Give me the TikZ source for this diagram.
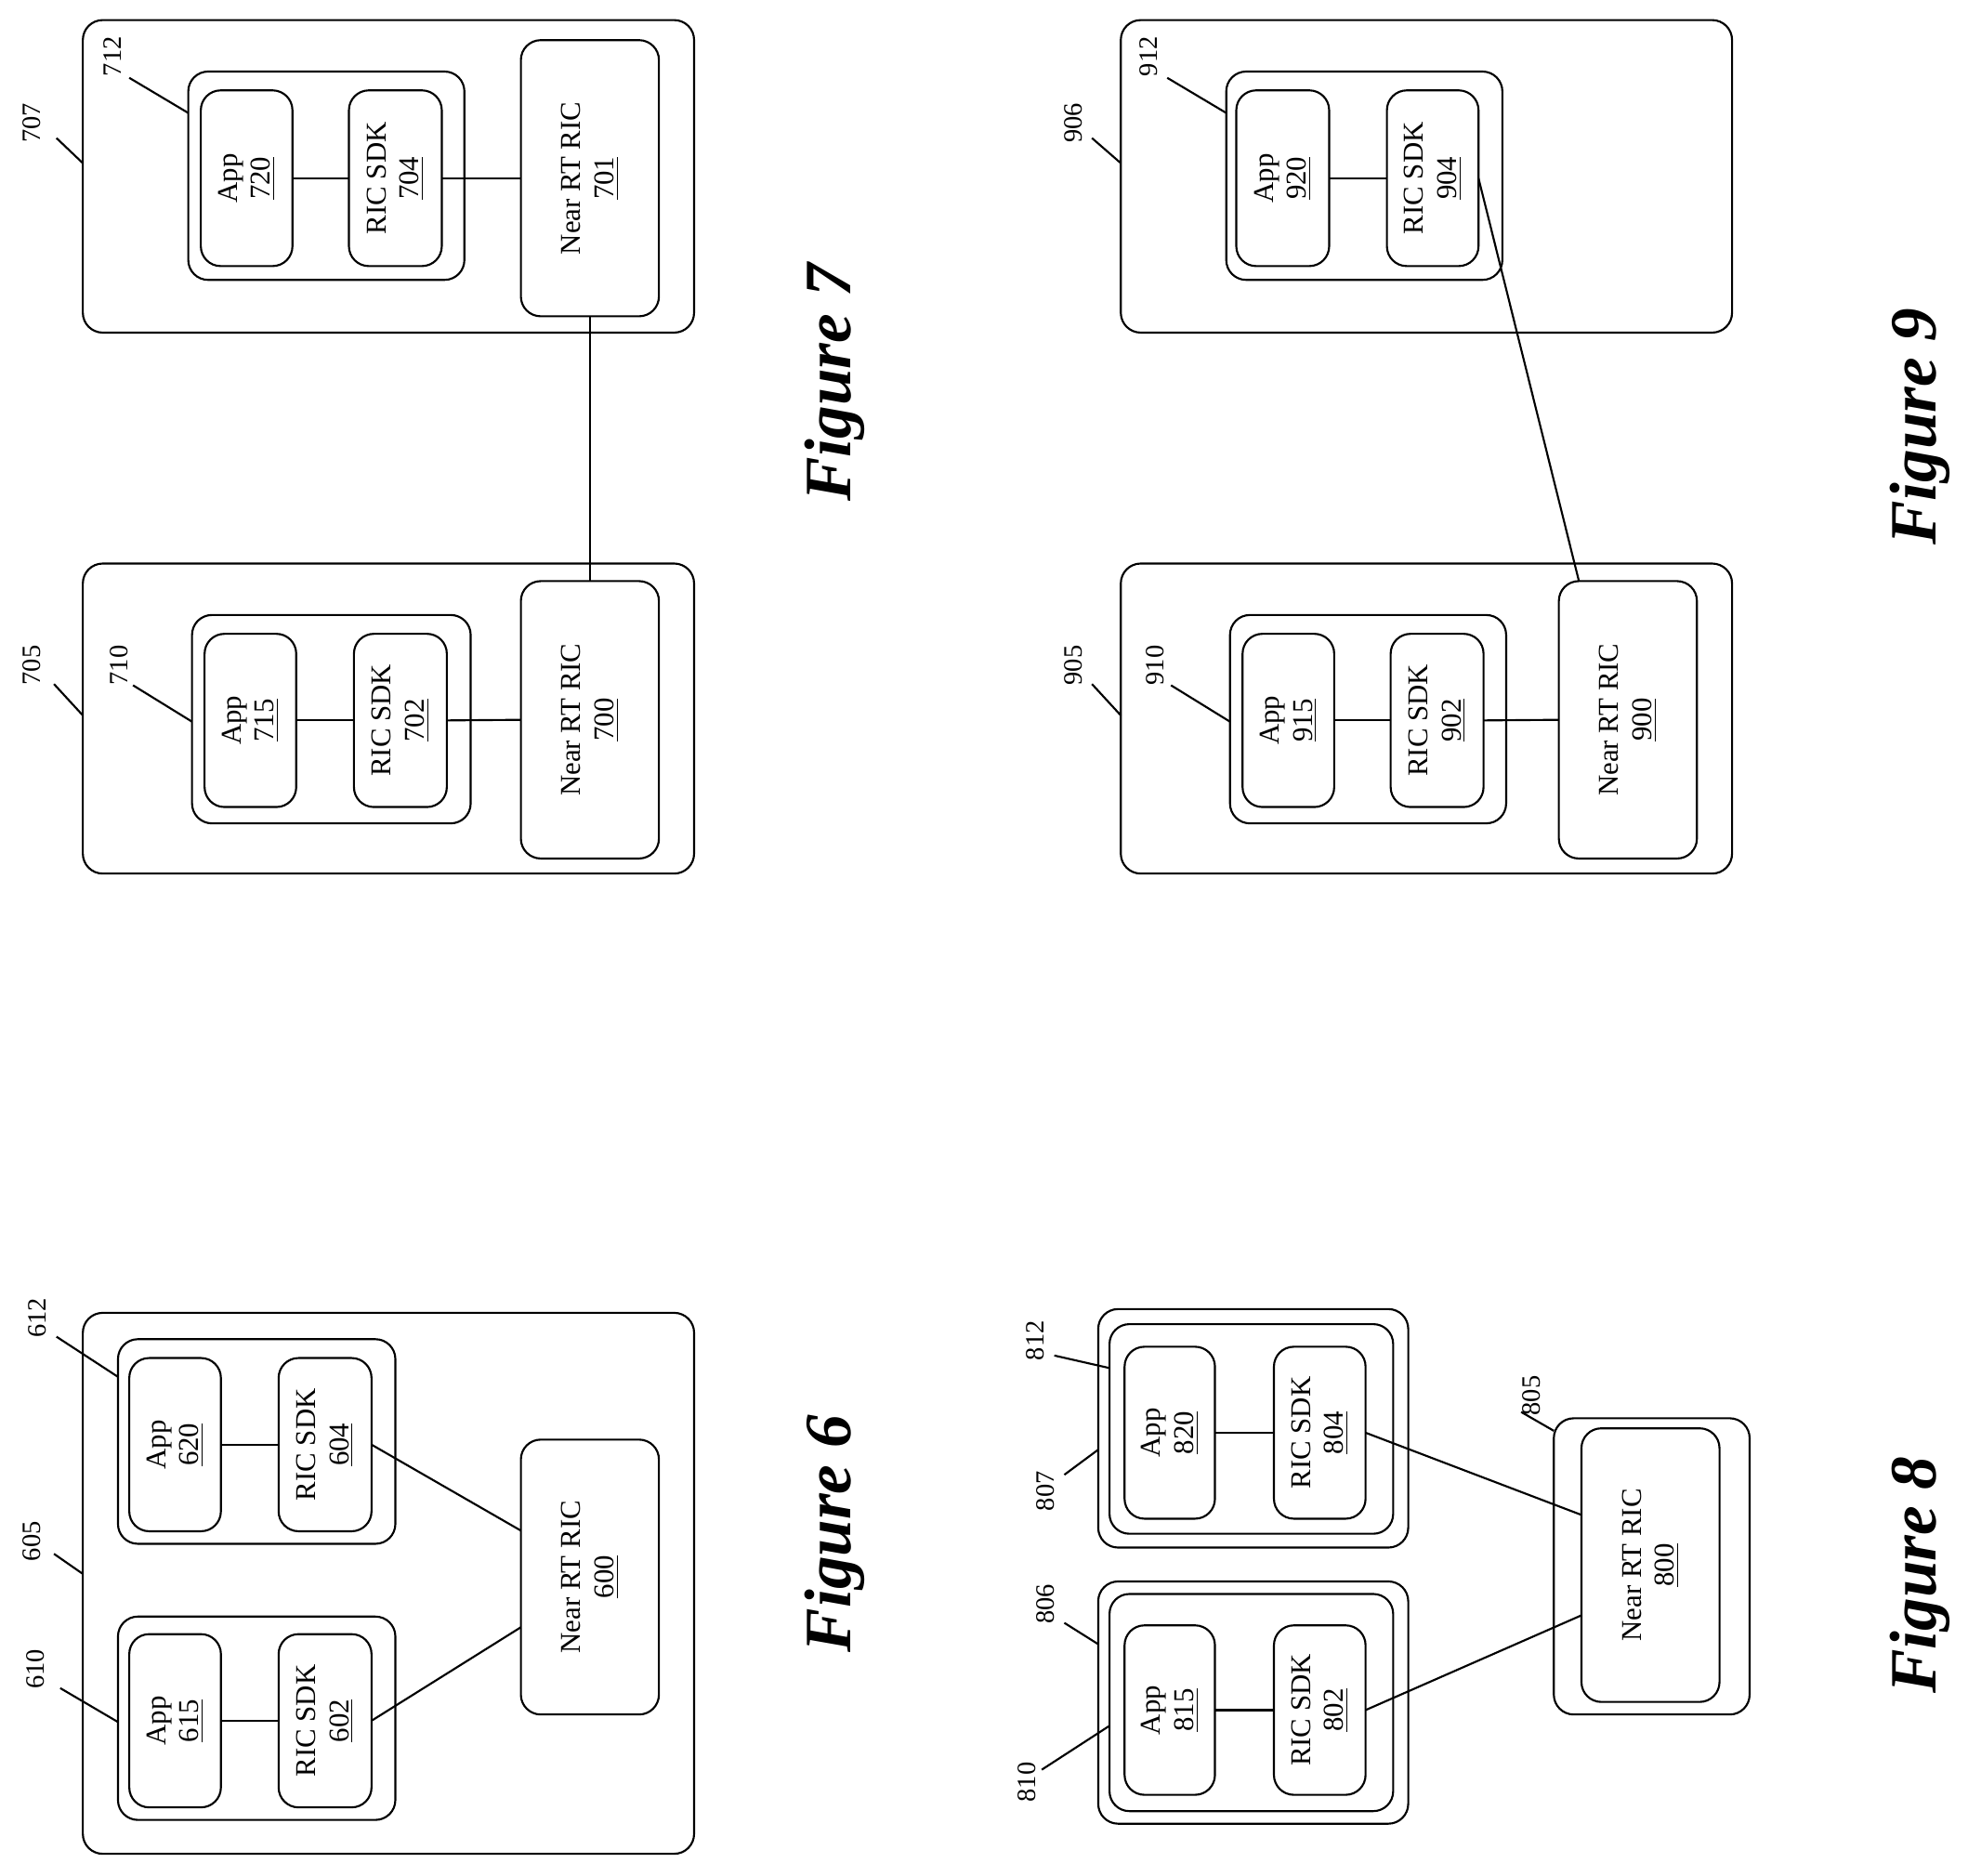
\documentclass[tikz,border=0pt]{standalone}
\usepackage{fontspec}
\setmainfont{Liberation Serif}
\usetikzlibrary{calc}

% block given by its corners (x1,y1) (x2,y2) in page pixels
\newcommand{\blk}[6]{%
	\node[blk,minimum width={(#5-#3)*0.2mm},minimum height={(#4-#2)*0.2mm}]
		(#1) at ({(#2+#4)/2},{(#3+#5)/2}) {#6};}

\begin{document}
\begin{tikzpicture}[
		x=0.2mm,y=-0.2mm,line width=0.9pt,
		blk/.style={draw,rounded corners=9pt,rotate=90,inner sep=0pt,outer sep=0pt,
			align=center,font=\fontsize{13}{15}\selectfont},
		lbl/.style={rotate=90,font=\fontsize{12}{14}\selectfont,inner sep=1pt},
		figcap/.style={rotate=90,font=\fontsize{30}{34}\selectfont\bfseries\itshape}
	]
	\useasboundingbox (0,0) rectangle (1568,1494);

	%Figure 6
		\blk{b605}{66}{1046}{553}{1477}{}
		\blk{b610}{94}{1288}{315}{1450}{}
		\blk{b612}{94}{1067}{315}{1230}{}
		\blk{a615}{103}{1302}{176}{1440}{App\\\underline{615}}
		\blk{s602}{222}{1302}{296}{1440}{RIC SDK\\\underline{602}}
		\blk{a620}{103}{1082}{176}{1220}{App\\\underline{620}}
		\blk{s604}{222}{1082}{296}{1220}{RIC SDK\\\underline{604}}
		\blk{r600}{415}{1147}{525}{1366}{Near RT RIC\\\underline{600}}
		\draw (a615.south) -- (s602.north);
		\draw (a620.south) -- (s604.north);
		\draw (s602.south) -- ($(r600.north)+(0,40)$);
		\draw (s604.south) -- ($(r600.north)+(0,-37)$);
		\node[lbl] (l605) at (25,1228) {605};
		\node[lbl] (l610) at (28,1330) {610};
		\node[lbl] (l612) at (30,1050) {612};
		\draw (43,1238) -- (66,1254);
		\draw (48,1345) -- (94,1372);
		\draw (45,1065) -- (94,1097);
		\node[figcap] (f6) at (665,1222) {Figure 6};

	%Figure 7
		\blk{b705}{66}{449}{553}{696}{}
		\blk{b710}{153}{490}{375}{656}{}
		\blk{a715}{163}{505}{236}{643}{App\\\underline{715}}
		\blk{s702}{282}{505}{356}{643}{RIC SDK\\\underline{702}}
		\blk{r700}{415}{463}{525}{684}{Near RT RIC\\\underline{700}}
		\blk{b707}{66}{16}{553}{265}{}
		\blk{b712}{150}{57}{370}{223}{}
		\blk{a720}{160}{72}{233}{212}{App\\\underline{720}}
		\blk{s704}{278}{72}{352}{212}{RIC SDK\\\underline{704}}
		\blk{r701}{415}{32}{525}{252}{Near RT RIC\\\underline{701}}
		\draw (a715.south) -- (s702.north);
		\draw (s702.south) -- (r700.north);
		\draw (a720.south) -- (s704.north);
		\draw (s704.south) -- (r701.north);
		\draw (r700.east) -- (r701.west);
		\node[lbl] (l705) at (25,530) {705};
		\node[lbl] (l710) at (95,530) {710};
		\node[lbl] (l707) at (25,98) {707};
		\node[lbl] (l712) at (90,45) {712};
		\draw (43,545) -- (66,570);
		\draw (106,546) -- (153,575);
		\draw (45,110) -- (66,130);
		\draw (103,62) -- (150,90);
		\node[figcap] (f7) at (665,305) {Figure 7};

	%Figure 8
		\blk{b806}{875}{1260}{1122}{1453}{}
		\blk{c806}{884}{1270}{1110}{1443}{}
		\blk{a815}{896}{1295}{968}{1430}{App\\\underline{815}}
		\blk{s802}{1015}{1295}{1088}{1430}{RIC SDK\\\underline{802}}
		\blk{b807}{875}{1043}{1122}{1233}{}
		\blk{c807}{884}{1055}{1110}{1222}{}
		\blk{a820}{896}{1073}{968}{1210}{App\\\underline{820}}
		\blk{s804}{1015}{1073}{1088}{1210}{RIC SDK\\\underline{804}}
		\blk{b805}{1238}{1130}{1394}{1366}{}
		\blk{r800}{1260}{1138}{1370}{1356}{Near RT RIC\\\underline{800}}
		\draw (a815.south) -- (s802.north);
		\draw (a820.south) -- (s804.north);
		\draw (s802.south) -- ($(r800.north)+(0,40)$);
		\draw (s804.south) -- ($(r800.north)+(0,-40)$);
		\node[lbl] (l810) at (818,1420) {810};
		\node[lbl] (l806) at (833,1278) {806};
		\node[lbl] (l812) at (825,1068) {812};
		\node[lbl] (l807) at (833,1188) {807};
		\node[lbl] (l805) at (1220,1112) {805};
		\draw (830,1410) -- (884,1375);
		\draw (848,1293) -- (875,1310);
		\draw (840,1080) -- (884,1090);
		\draw (848,1175) -- (875,1155);
		\draw (1212,1125) -- (1238,1140);
		\node[figcap] (f8) at (1530,1255) {Figure 8};

	%Figure 9
		\blk{b905}{893}{449}{1380}{696}{}
		\blk{b910}{980}{490}{1200}{656}{}
		\blk{a915}{990}{505}{1063}{643}{App\\\underline{915}}
		\blk{s902}{1108}{505}{1182}{643}{RIC SDK\\\underline{902}}
		\blk{r900}{1242}{463}{1352}{684}{Near RT RIC\\\underline{900}}
		\blk{b906}{893}{16}{1380}{265}{}
		\blk{b912}{977}{57}{1197}{223}{}
		\blk{a920}{985}{72}{1059}{212}{App\\\underline{920}}
		\blk{s904}{1105}{72}{1178}{212}{RIC SDK\\\underline{904}}
		\draw (a915.south) -- (s902.north);
		\draw (s902.south) -- (r900.north);
		\draw (a920.south) -- (s904.north);
		\draw (s904.south) -- ($(r900.east)+(-39,0)$);
		\node[lbl] (l905) at (855,530) {905};
		\node[lbl] (l910) at (920,530) {910};
		\node[lbl] (l906) at (855,98) {906};
		\node[lbl] (l912) at (915,45) {912};
		\draw (870,545) -- (893,570);
		\draw (933,546) -- (980,575);
		\draw (870,110) -- (893,130);
		\draw (930,62) -- (977,90);
		\node[figcap] (f9) at (1530,340) {Figure 9};
\end{tikzpicture}
\end{document}
